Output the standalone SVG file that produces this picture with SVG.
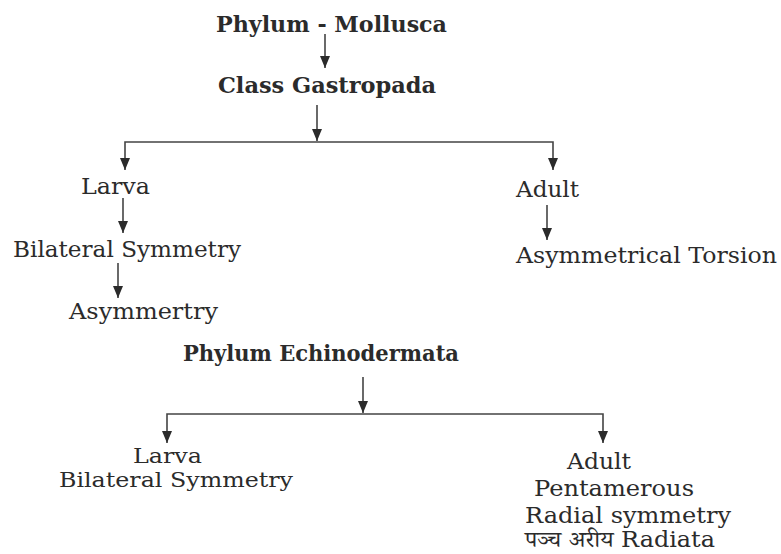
<svg xmlns="http://www.w3.org/2000/svg" width="781" height="554" viewBox="0 0 781 554">
<style>
text{font-family:"DejaVu Serif","Liberation Serif","Noto Serif Devanagari","Noto Sans Devanagari",serif;fill:#2b2b2b;font-size:22px}
.b{font-weight:bold;font-size:22px}
.s{font-size:20.5px}
.c path{stroke:#444;stroke-width:1.6;fill:none}
</style>
<defs>
<marker id="ah" markerWidth="12" markerHeight="10" viewBox="0 0 12 10" refX="12" refY="5" orient="auto-start-reverse" markerUnits="userSpaceOnUse">
<path d="M0,0 L12,5 L0,10 Z" fill="#2b2b2b" stroke="none"/>
</marker>
</defs>
<rect width="781" height="554" fill="#ffffff"/>
<g class="c" id="connectors">
<path d="M325,34 V68" marker-end="url(#ah)"/>
<path d="M317,105 V141" marker-end="url(#ah)"/>
<path d="M125,170 V142 H553 V170" marker-start="url(#ah)" marker-end="url(#ah)"/>
<path d="M123,198 V233" marker-end="url(#ah)"/>
<path d="M118,263 V298" marker-end="url(#ah)"/>
<path d="M547,205 V240" marker-end="url(#ah)"/>
<path d="M363,377 V413" marker-end="url(#ah)"/>
<path d="M167,443 V414 H603 V443" marker-start="url(#ah)" marker-end="url(#ah)"/>
</g>
<g id="n-mollusca"><text class="b" x="216" y="32" textLength="231" lengthAdjust="spacingAndGlyphs">Phylum - Mollusca</text></g>
<g id="n-gastropada"><text class="b" x="218" y="93" textLength="218" lengthAdjust="spacingAndGlyphs">Class Gastropada</text></g>
<g id="n-larva1"><text x="81" y="194" textLength="69" lengthAdjust="spacingAndGlyphs">Larva</text></g>
<g id="n-bilateral1"><text x="13" y="257" textLength="228" lengthAdjust="spacingAndGlyphs">Bilateral Symmetry</text></g>
<g id="n-asym"><text x="69" y="319" textLength="149" lengthAdjust="spacingAndGlyphs">Asymmertry</text></g>
<g id="n-adult1"><text x="516" y="197" textLength="63" lengthAdjust="spacingAndGlyphs">Adult</text></g>
<g id="n-torsion"><text x="516" y="263" textLength="261" lengthAdjust="spacingAndGlyphs">Asymmetrical Torsion</text></g>
<g id="n-echino"><text class="b" x="183" y="361" textLength="276" lengthAdjust="spacingAndGlyphs">Phylum Echinodermata</text></g>
<g id="n-larva2">
<text class="s" x="133" y="463" textLength="69" lengthAdjust="spacingAndGlyphs">Larva</text>
<text class="s" x="59" y="487" textLength="234" lengthAdjust="spacingAndGlyphs">Bilateral Symmetry</text>
</g>
<g id="n-adult2">
<text x="567" y="469" textLength="64" lengthAdjust="spacingAndGlyphs">Adult</text>
<text x="534" y="496" textLength="160" lengthAdjust="spacingAndGlyphs">Pentamerous</text>
<text x="525" y="523" textLength="206" lengthAdjust="spacingAndGlyphs">Radial symmetry</text>
<text x="525" y="547" textLength="190" lengthAdjust="spacingAndGlyphs">पञ्च अरीय Radiata</text>
</g>
</svg>
